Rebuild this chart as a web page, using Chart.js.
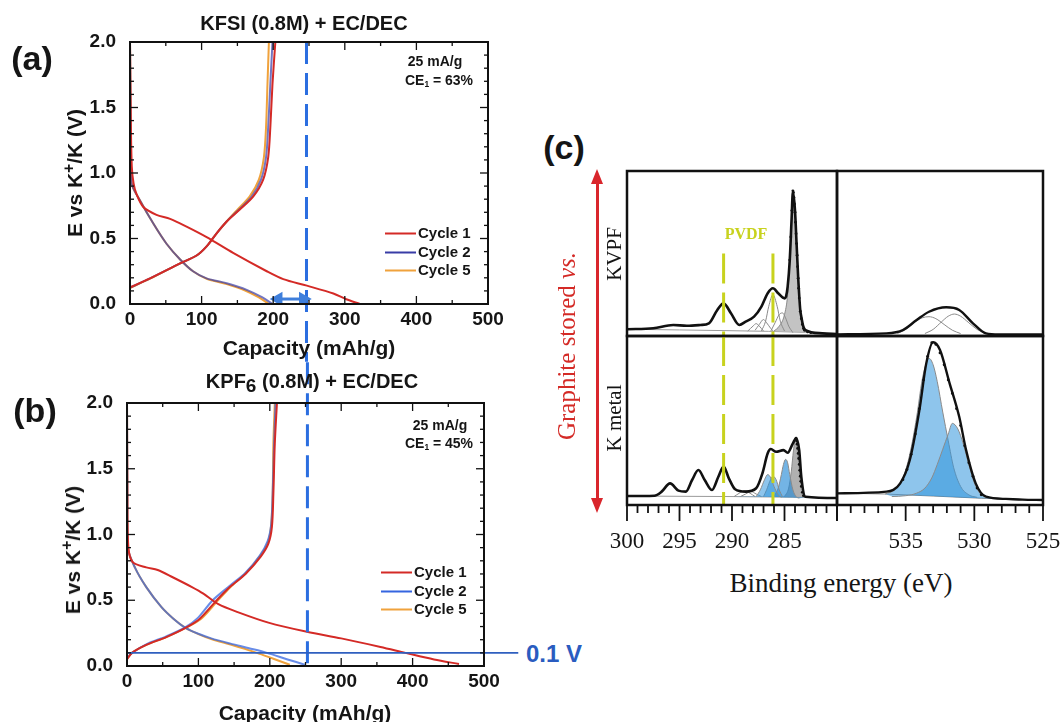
<!DOCTYPE html>
<html>
<head>
<meta charset="utf-8">
<title>Graphite anode: KFSI vs KPF6 and XPS</title>
<script src="https://cdn.jsdelivr.net/npm/chart.js@4.4.1/dist/chart.umd.min.js"></script>
<style>
  body { margin: 0; background: #fff; }
  #fig { position: relative; width: 1063px; height: 722px; overflow: hidden; background: #fff; }
  canvas { position: absolute; }
  .t { position: absolute; transform: translate(-50%, -50%); white-space: nowrap; line-height: 1; color: #151515; }
  .sans { font-family: 'Liberation Sans', Arial, sans-serif; font-weight: bold; }
  .serif { font-family: 'Liberation Serif', 'Times New Roman', serif; }
  .rot { transform: translate(-50%, -50%) rotate(-90deg); }
  .leg { position: absolute; transform: translateY(-50%); white-space: nowrap; line-height: 1;
         font: bold 15px 'Liberation Sans', Arial, sans-serif; color: #151515; }
  .leg i { display: inline-block; width: 31px; height: 2px; vertical-align: middle; margin-right: 2px; }
  sub.s { font-size: 0.6em; vertical-align: -0.25em; }
  .arr { position: absolute; width: 0; height: 0; border-left: 6px solid transparent; border-right: 6px solid transparent; }
</style>
</head>
<body>
<div id="fig">
  <canvas id="chartA" width="520" height="362" style="left:0;top:0"></canvas>
  <canvas id="chartB" width="520" height="360" style="left:0;top:362px"></canvas>
  <canvas id="chartTL" width="225" height="178" style="left:620px;top:165px"></canvas>
  <canvas id="chartTR" width="225" height="178" style="left:830px;top:165px"></canvas>
  <canvas id="chartBL" width="250" height="230" style="left:598px;top:330px"></canvas>
  <canvas id="chartBR" width="251" height="230" style="left:812px;top:330px"></canvas>

  <!-- (a) -->
  <div class="t sans" style="left:32px;top:58px;font-size:34px">(a)</div>
  <div class="t sans" style="left:304px;top:23px;font-size:20px">KFSI (0.8M) + EC/DEC</div>
  <div class="t sans rot" style="left:73px;top:173px;font-size:21px">E vs K<sup style="font-size:0.75em">+</sup>/K (V)</div>
  <div class="t sans" style="left:309px;top:347px;font-size:21px">Capacity (mAh/g)</div>
  <div class="t sans" style="left:435px;top:61px;font-size:14px">25 mA/g</div>
  <div class="t sans" style="left:439px;top:81px;font-size:14px">CE<sub class="s">1</sub> = 63%</div>
  <div class="leg" style="left:385px;top:232px"><i style="background:#d42a26"></i>Cycle 1</div>
  <div class="leg" style="left:385px;top:251px"><i style="background:#383ca6"></i>Cycle 2</div>
  <div class="leg" style="left:385px;top:269px"><i style="background:#f0a23c"></i>Cycle 5</div>

  <!-- (b) -->
  <div class="t sans" style="left:35px;top:410px;font-size:34px">(b)</div>
  <div class="t sans" style="left:312px;top:383px;font-size:20px">KPF<sub style="font-size:0.95em;vertical-align:-0.2em">6</sub> (0.8M) + EC/DEC</div>
  <div class="t sans rot" style="left:71px;top:550px;font-size:21px">E vs K<sup style="font-size:0.75em">+</sup>/K (V)</div>
  <div class="t sans" style="left:305px;top:712px;font-size:21px">Capacity (mAh/g)</div>
  <div class="t sans" style="left:440px;top:425px;font-size:14px">25 mA/g</div>
  <div class="t sans" style="left:439px;top:444px;font-size:14px">CE<sub class="s">1</sub> = 45%</div>
  <div class="leg" style="left:381px;top:571px"><i style="background:#d42a26"></i>Cycle 1</div>
  <div class="leg" style="left:381px;top:590px"><i style="background:#3565e0"></i>Cycle 2</div>
  <div class="leg" style="left:381px;top:608px"><i style="background:#f0a23c"></i>Cycle 5</div>
  <div class="t sans" style="left:554px;top:654px;font-size:24px;color:#2a5cc0">0.1 V</div>

  <!-- (c) -->
  <div class="t sans" style="left:564px;top:147px;font-size:34px">(c)</div>
  <div style="position:absolute;left:596px;top:182px;width:2.5px;height:318px;background:#d9262c"></div>
  <div class="arr" style="left:591px;top:169px;border-bottom:15px solid #d9262c"></div>
  <div class="arr" style="left:591px;top:498px;border-top:15px solid #d9262c"></div>
  <div class="t serif rot" style="left:566px;top:346px;font-size:25px;color:#d42a26">Graphite stored <i>vs.</i></div>
  <div class="t serif rot" style="left:614px;top:254px;font-size:21px">KVPF</div>
  <div class="t serif rot" style="left:614px;top:418px;font-size:21px">K metal</div>
  <div class="t serif" style="left:746px;top:234px;font-size:16px;font-weight:bold;color:#c8d21e">PVDF</div>
  <div class="t serif" style="left:841px;top:583px;font-size:27px">Binding energy (eV)</div>
</div>

<script>
// (a) KFSI (0.8M) + EC/DEC : [capacity mAh/g, voltage V]
const aCycle1Discharge = [[0,2.0],[1,1.45],[2.5,1.05],[5,0.92],[9,0.84],[18.6,0.74],[37,0.68],[56,0.65],[79,0.59],[107,0.51],[144,0.39],[191,0.25],[214,0.19],[247,0.14],[284,0.08],[302,0.036],[321,0.0]];
const aCycle1Charge = [[0,0.127],[28,0.196],[70,0.31],[93,0.37],[107,0.44],[121,0.54],[135,0.63],[153,0.72],[172,0.82],[186,0.95],[193,1.12],[196,1.35],[199,1.68],[203,2.0]];
const aCycle2Discharge = [[0,2.0],[1,1.3],[2.3,0.92],[14,0.79],[33,0.61],[51,0.46],[70,0.34],[88,0.25],[107,0.196],[135,0.158],[163,0.108],[185,0.05],[199,0.0]];
const aCycle2Charge = [[0,0.125],[28,0.195],[70,0.31],[93,0.37],[107,0.44],[121,0.54],[135,0.63],[152,0.72],[170,0.82],[183,0.95],[190,1.12],[193,1.35],[196,1.68],[199,2.0]];
const aCycle5Discharge = [[0,2.0],[1,1.3],[2.3,0.92],[14,0.79],[33,0.61],[51,0.46],[70,0.34],[88,0.25],[107,0.193],[135,0.152],[160,0.105],[180,0.05],[194,0.0]];
const aCycle5Charge = [[0,0.122],[28,0.193],[70,0.31],[93,0.37],[107,0.44],[121,0.54],[135,0.63],[150,0.72],[167,0.82],[180,0.95],[187,1.12],[190,1.35],[192,1.68],[194,2.0]];
const aRefCapacity = 246.5;          // blue dashed marker
const aArrowCapacity = [207, 242];   // double arrow
const aArrowVoltage = 0.038;

// (b) KPF6 (0.8M) + EC/DEC
const bCycle1Discharge = [[0,2.0],[0.5,1.3],[2,0.9],[8,0.79],[27,0.75],[43,0.73],[64,0.675],[91,0.6],[107,0.55],[128,0.47],[155,0.41],[198,0.33],[252,0.26],[300,0.21],[355,0.145],[390,0.1],[430,0.05],[465,0.015]];
const bCycle1Charge = [[0,0.05],[7,0.1],[27,0.16],[55,0.22],[82,0.29],[102,0.36],[124,0.49],[144,0.6],[166,0.7],[187,0.83],[198,0.93],[203,1.06],[205,1.31],[207,1.69],[210,2.0]];
const bCycle2Discharge = [[0,2.0],[0.5,1.3],[1,0.9],[11,0.75],[27,0.6],[48,0.45],[65,0.36],[82,0.29],[100,0.245],[118,0.21],[145,0.17],[171,0.135],[196,0.1],[225,0.05],[249,0.01]];
const bCycle2Charge = [[0,0.06],[7,0.1],[27,0.165],[55,0.225],[82,0.295],[100,0.37],[120,0.5],[144,0.61],[166,0.71],[186,0.84],[197,0.95],[202,1.08],[204,1.31],[206,1.69],[208,2.0]];
const bCycle5Discharge = [[0,2.0],[0.5,1.3],[1,0.9],[11,0.75],[27,0.6],[48,0.45],[65,0.36],[82,0.29],[100,0.243],[118,0.205],[145,0.163],[165,0.13],[182,0.1],[205,0.055],[228,0.01]];
const bCycle5Charge = [[0,0.055],[7,0.1],[27,0.16],[55,0.22],[82,0.29],[104,0.36],[126,0.49],[145,0.6],[167,0.71],[188,0.85],[198,0.95],[202,1.08],[204,1.31],[205,1.69],[207,2.0]];
const bRefCapacity = 252.7;
const bRefVoltage = 0.1;
const bRefVoltageEnd = 548;          // line runs out past the axis to the "0.1 V" label

// (c) XPS : [binding energy eV, intensity a.u. 0-100]
const c1sTickLabels = [300, 295, 290, 285];
const o1sTickLabels = [535, 530, 525];
const pvdfEnergies = [290.8, 286.1];
const pvdfTop = 50;

const tlEnvelope = [[280,1.2],[281.4,1.6],[283.0,3.6],[283.2,5.6],[283.4,11.7],[283.5,15.8],[283.7,35.9],[283.85,56],[284.0,76],[284.2,87.5],[284.33,70],[284.5,46],[284.7,29.9],[284.85,24],[285.0,22.8],[285.6,25.9],[286.1,28.9],[286.6,25.9],[287.2,17.8],[287.9,11.7],[288.7,8.7],[289.3,6.7],[290.1,13.8],[290.8,19.8],[291.4,15.8],[292.2,7.7],[293.0,6.7],[294.3,6.2],[295.6,6.7],[297.5,4.7],[300,4.1]];
const tlMain = [[282.8,2],[283.2,5],[283.5,15],[283.7,35],[283.85,55],[284.0,75],[284.2,86],[284.33,70],[284.5,45],[284.7,25],[285.0,13],[285.5,6],[286.0,3]];
const tlComp1 = [[285.0,3],[285.4,9],[285.7,18],[286.1,25],[286.5,18],[286.8,9],[287.2,3]];
const tlComp2 = [[284.2,2],[284.6,6],[284.9,11],[285.2,14],[285.5,13],[285.9,8],[286.3,3]];
const tlComp3 = [[286.0,2.5],[286.3,4.5],[286.7,8],[287.0,10],[287.4,7],[287.8,3.5]];
const tlComp4 = [[287.0,3],[287.4,6],[287.7,7.5],[288.0,6],[288.5,3]];
const tlBaseline = [[280,1.2],[283,2.2],[290,3.2],[300,4.1]];
const tlDots = [[282.5,2],[282.8,2.5],[283.1,3.5],[283.2,4.5],[283.3,7],[283.4,10.5],[283.5,15],[283.6,23],[283.65,29],[283.7,35],[283.75,42],[283.8,49],[283.85,56],[283.9,62],[283.95,69],[284.0,75],[284.05,80],[284.1,84],[284.15,87],[284.2,88],[284.3,76],[284.4,60],[284.5,46]];

const blEnvelope = [[279.8,4.1],[283.0,4.9],[283.4,16.7],[283.6,32.5],[283.9,39.5],[284.2,36.5],[284.7,30.9],[285.1,32.5],[285.8,31.5],[286.3,33.1],[286.6,30.6],[287.1,18.8],[287.7,9.9],[288.7,7.9],[289.7,9.3],[290.3,15.8],[290.8,22.7],[291.3,16.7],[291.9,8.9],[292.6,14.8],[293.2,20.7],[293.8,14.8],[294.4,7.9],[295.1,8.5],[295.9,12.8],[296.7,7.9],[297.4,5.5],[300,5.3]];
const blMain = [[283.1,4.5],[283.3,6],[283.45,12],[283.6,22],[283.8,34],[283.95,39],[284.15,32],[284.35,20],[284.6,10],[285.0,5]];
const blCompA = [[283.6,4],[283.9,5],[284.2,9],[284.5,18],[284.7,25],[284.9,27],[285.1,24],[285.3,18],[285.6,10],[286.0,5]];
const blCompB = [[285.3,4.5],[285.6,6],[286.0,11],[286.3,16],[286.6,18],[286.9,15],[287.3,9],[287.7,5]];
const blCompC = [[285.2,5],[285.5,9],[285.8,15],[286.1,17],[286.4,14],[286.7,9],[287.0,5]];
const blCompD = [[287.8,5],[288.3,7],[288.8,8.5],[289.3,7],[289.8,5]];
const blCompE = [[287.2,5],[287.7,6.5],[288.2,8],[288.7,6.5],[289.2,5]];
const blBaseline = [[279.8,4.1],[283,4.5],[290,5],[300,5.3]];
const blDots = [[283.2,5.5],[283.3,7.5],[283.4,11],[283.45,14],[283.5,17],[283.55,20.5],[283.6,24],[283.65,27.5],[283.7,30.5],[283.75,33.5],[283.8,36],[283.85,38],[283.9,39.5]];

const trEnvelope = [[525,1.0],[528.2,1.0],[529.15,1.6],[530.1,7.7],[531.1,15.8],[532.05,17.4],[533.3,14.7],[534.2,9.7],[535.2,3.6],[536.4,1.6],[540,1.0]];
const trComp1 = [[531.0,1.5],[531.6,3.5],[532.2,7],[532.8,10.5],[533.3,11.7],[533.8,11],[534.4,8],[535.0,4],[535.6,1.5]];
const trComp2 = [[529.2,1.5],[529.8,4],[530.4,8],[531.0,12],[531.45,13.3],[531.9,12],[532.4,8.5],[533.0,4],[533.6,1.5]];

const brEnvelope = [[525,3.0],[526.5,3.2],[527.7,3.6],[529.15,4.9],[529.9,12.8],[530.6,32.5],[531.1,52.2],[531.8,72.0],[532.5,91.7],[533.0,96.3],[533.5,83.8],[534.0,56.2],[534.7,26.6],[535.4,12.8],[536.4,7.9],[540,6.9]];
const brComp1 = [[529.8,4.5],[530.4,6],[531.0,11],[531.5,22],[531.9,38],[532.3,55],[532.7,73],[533.0,83],[533.3,86.8],[533.5,84],[533.8,74],[534.2,52],[534.7,30],[535.2,16],[535.8,9],[536.5,6.5]];
const brComp2 = [[529.2,4.5],[529.6,7],[530.0,13],[530.4,24],[530.8,36],[531.2,45],[531.6,48.3],[531.9,42],[532.3,33],[532.7,24],[533.1,16],[533.6,10],[534.2,7],[535.0,5.5],[536.0,5]];
const brBaseline = [[525,3.0],[529.5,4.0],[536.5,6.5],[540,6.9]];
const brDots = [[529.5,6],[529.8,10],[530.1,17],[530.4,25],[530.7,35],[531.0,47],[531.3,57],[531.6,66],[531.9,74],[532.2,83],[532.5,90],[532.8,95],[533.1,96],[533.4,88],[533.7,74],[534.0,57],[534.3,42],[534.6,30],[534.9,21],[535.2,15]];

// colours (cycle 2 slightly see-through so overlapping cycles blend like the original)
const red = '#d42a26';
const navy = 'rgba(56,60,166,0.7)';
const blue = 'rgba(53,101,224,0.75)';
const orange = '#f0a23c';
const refBlue = '#2b6ee0';
const pvdfColor = 'rgb(200,210,30)';
const blueFill = 'rgba(50,150,220,0.55)';

Chart.defaults.color = '#151515';
const pts = arr => arr.map(([x, y]) => ({ x, y }));

// frame, tick marks and (for XPS) tick labels drawn from the chart's own scales
const frameBox = {
  id: 'frameBox',
  afterDatasetsDraw(chart, args, o) {
    const { ctx, chartArea: a, scales: { x, y } } = chart;
    const seg = (x0, y0, x1, y1) => { ctx.beginPath(); ctx.moveTo(x0, y0); ctx.lineTo(x1, y1); ctx.stroke(); };
    ctx.save();
    ctx.strokeStyle = '#111';
    ctx.lineWidth = o.tickWidth || 1.3;
    if (o.inner) {
      for (let i = 0, v = x.min; v <= x.max + 1e-6; i++, v = x.min + i * o.xMinor) {
        const px = x.getPixelForValue(v), len = i % o.xEvery === 0 ? 8 : 4;
        seg(px, a.bottom, px, a.bottom - len);
        seg(px, a.top, px, a.top + len);
      }
      for (let i = 0, v = y.min; v <= y.max + 1e-6; i++, v = y.min + i * o.yMinor) {
        const py = y.getPixelForValue(v), len = i % o.yEvery === 0 ? 8 : 4;
        seg(a.left, py, a.left + len, py);
        seg(a.right, py, a.right - len, py);
      }
    }
    if (o.labels) {
      for (let i = 0, v = x.min; v <= x.max + 1e-6; i++, v = x.min + i) {
        const px = x.getPixelForValue(v), len = v % 5 === 0 ? 16 : 8;
        seg(px, a.bottom, px, a.bottom + len);
      }
      ctx.fillStyle = '#151515';
      ctx.font = "23px 'Liberation Serif', 'Times New Roman', serif";
      ctx.textAlign = 'center';
      ctx.textBaseline = 'middle';
      o.labels.forEach(v => ctx.fillText(String(v), x.getPixelForValue(v), a.bottom + 37));
    }
    ctx.lineWidth = o.frameWidth;
    ctx.strokeRect(a.left, a.top, a.right - a.left, a.bottom - a.top);
    ctx.restore();
  }
};

function curve(d, color) {
  return { data: pts(d), borderColor: color, borderWidth: 2, pointRadius: 0, tension: 0.3, fill: false };
}

function straight(d, color, width, dash) {
  return { data: pts(d), borderColor: color, borderWidth: width, borderDash: dash || [], pointRadius: 0, tension: 0, fill: false, clip: false };
}

function voltageOptions(padTop, padRight, yWidth, xHeight) {
  const tickFont = { family: "'Liberation Sans', Arial, sans-serif", size: 19, weight: 'bold' };
  return {
    responsive: false,
    animation: false,
    layout: { padding: { left: 0, right: padRight, top: padTop, bottom: 0 } },
    plugins: {
      legend: { display: false },
      tooltip: { enabled: false },
      frameBox: { inner: true, xMinor: 50, xEvery: 2, yMinor: 0.1, yEvery: 5, frameWidth: 2, tickWidth: 1.3 }
    },
    scales: {
      x: {
        type: 'linear', min: 0, max: 500,
        afterFit: s => { s.height = xHeight; },
        ticks: { stepSize: 100, font: tickFont, color: '#151515', padding: 4, maxRotation: 0 },
        grid: { display: false, drawTicks: false }, border: { display: false }
      },
      y: {
        type: 'linear', min: 0, max: 2,
        afterFit: s => { s.width = yWidth; },
        ticks: { stepSize: 0.5, font: tickFont, color: '#151515', padding: 14, callback: v => v.toFixed(1) },
        grid: { display: false, drawTicks: false }, border: { display: false }
      }
    }
  };
}

// (a)
new Chart(document.getElementById('chartA'), {
  type: 'line',
  data: { datasets: [
    { data: pts(aArrowCapacity.map(c => [c, aArrowVoltage])), borderColor: '#3f7fdc', borderWidth: 3, tension: 0,
      pointStyle: 'triangle', pointRadius: 5.5, pointRotation: [-90, 90], pointBackgroundColor: '#3f7fdc', pointBorderColor: '#3f7fdc' },
    straight([[aRefCapacity, 2.0], [aRefCapacity, -0.44]], refBlue, 3, [22, 9]),
    curve(aCycle1Discharge, red), curve(aCycle1Charge, red),
    curve(aCycle2Discharge, navy), curve(aCycle2Charge, navy),
    curve(aCycle5Discharge, orange), curve(aCycle5Charge, orange)
  ] },
  options: voltageOptions(42, 32, 130, 58),
  plugins: [frameBox]
});

// (b)
new Chart(document.getElementById('chartB'), {
  type: 'line',
  data: { datasets: [
    straight([[0, bRefVoltage], [bRefVoltageEnd, bRefVoltage]], '#2f5fbf', 1.6),
    straight([[bRefCapacity, 2.31], [bRefCapacity, 0]], refBlue, 3, [22, 9]),
    curve(bCycle1Discharge, red), curve(bCycle1Charge, red),
    curve(bCycle2Discharge, blue), curve(bCycle2Charge, blue),
    curve(bCycle5Discharge, orange), curve(bCycle5Charge, orange)
  ] },
  options: voltageOptions(41, 36, 127, 56),
  plugins: [frameBox]
});

// (c) XPS panels: scales hidden, frame/ticks/labels drawn by frameBox
function xpsOptions(min, max, pad, labels) {
  return {
    responsive: false,
    animation: false,
    layout: { padding: pad },
    plugins: {
      legend: { display: false },
      tooltip: { enabled: false },
      frameBox: { labels, frameWidth: 2.5, tickWidth: 1.8 }
    },
    scales: {
      x: { type: 'linear', reverse: true, min, max, display: false },
      y: { type: 'linear', min: 0, max: 100, display: false }
    }
  };
}

const smooth = (d, color, width, extra) => Object.assign(
  { data: pts(d), borderColor: color, borderWidth: width, pointRadius: 0, fill: false, cubicInterpolationMode: 'monotone' }, extra || {});
const dots = d => ({ data: pts(d), showLine: false, pointRadius: 1.4, pointBackgroundColor: '#111', pointBorderWidth: 0 });
const pvdf = top => pvdfEnergies.map(e => straight([[e, top], [e, 0]], pvdfColor, 3, [30, 9]));
const filled = (d, color, baseIndex) => smooth(d, '#8a8a8a', 1, { fill: { target: baseIndex }, backgroundColor: color });

// top-left: C 1s, KVPF
new Chart(document.getElementById('chartTL'), {
  type: 'line',
  data: { datasets: [
    ...pvdf(pvdfTop),
    smooth(tlEnvelope, '#111', 2.6),
    dots(tlDots),
    smooth(tlComp1, '#8a8a8a', 1), smooth(tlComp2, '#8a8a8a', 1),
    smooth(tlComp3, '#8a8a8a', 1), smooth(tlComp4, '#8a8a8a', 1),
    filled(tlMain, 'rgba(185,185,185,0.85)', 9),
    smooth(tlBaseline, '#9a9a9a', 1)
  ] },
  options: xpsOptions(280, 300, { left: 7, right: 8, top: 6, bottom: 7 }, null),
  plugins: [frameBox]
});

// top-right: O 1s, KVPF
new Chart(document.getElementById('chartTR'), {
  type: 'line',
  data: { datasets: [
    smooth(trEnvelope, '#111', 2.4),
    smooth(trComp1, '#8a8a8a', 1), smooth(trComp2, '#8a8a8a', 1)
  ] },
  options: xpsOptions(525, 540, { left: 7, right: 12, top: 6, bottom: 7 }, null),
  plugins: [frameBox]
});

// bottom-left: C 1s, K metal
new Chart(document.getElementById('chartBL'), {
  type: 'line',
  data: { datasets: [
    ...pvdf(100),
    smooth(blEnvelope, '#111', 2.6),
    dots(blDots),
    filled(blCompB, blueFill, 10), filled(blCompC, blueFill, 10),
    filled(blCompA, 'rgba(40,140,215,0.65)', 10),
    filled(blMain, 'rgba(150,150,150,0.75)', 10),
    smooth(blCompD, '#8a8a8a', 1), smooth(blCompE, '#8a8a8a', 1),
    smooth(blBaseline, '#9a9a9a', 1)
  ] },
  options: xpsOptions(280, 300, { left: 29, right: 11, top: 6, bottom: 55 }, c1sTickLabels),
  plugins: [frameBox]
});

// bottom-right: O 1s, K metal
new Chart(document.getElementById('chartBR'), {
  type: 'line',
  data: { datasets: [
    smooth(brEnvelope, '#111', 2.4),
    dots(brDots),
    filled(brComp2, blueFill, 4),
    filled(brComp1, blueFill, 4),
    smooth(brBaseline, '#8a8a8a', 1)
  ] },
  options: xpsOptions(525, 540, { left: 25, right: 20, top: 6, bottom: 55 }, o1sTickLabels),
  plugins: [frameBox]
});
</script>
</body>
</html>
